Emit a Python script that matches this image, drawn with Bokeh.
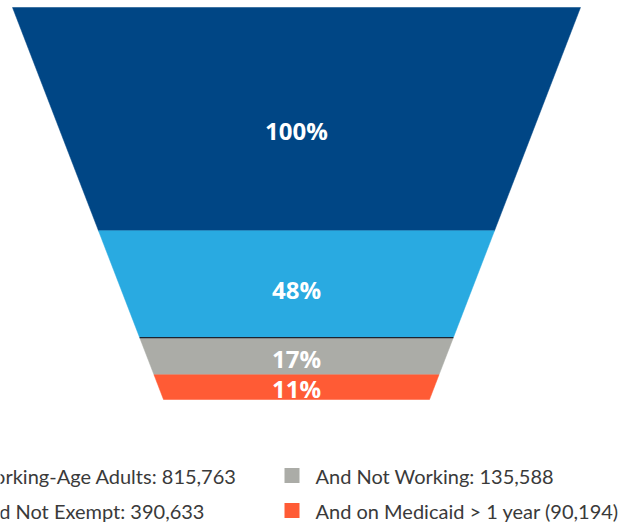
from bokeh.plotting import figure
from bokeh.models import Range1d, Label, BoxAnnotation, ColumnDataSource
from bokeh.core.properties import value
from bokeh.embed import file_html
from bokeh.resources import INLINE

# ---- data ----
stages = ["Working-Age Adults", "And Not Exempt", "And Not Working", "And on Medicaid > 1 year"]
counts = [815763, 390633, 135588, 90194]
legend_labels = [
    "Working-Age Adults: 815,763",
    "And Not Exempt: 390,633",
    "And Not Working: 135,588",
    "And on Medicaid > 1 year (90,194)",
]
colors = ["#004685", "#29AAE1", "#ABACA7", "#FF5B35"]

# ---- layout constants (styles) ----
W, H = 639, 524
TOP_PX, BOT_PX = 7, 399          # page y of funnel top / bottom
CENTER_PX = 296                   # page x of funnel axis
TOP_HW_PX, BOT_HW_PX = 284, 133   # half widths in px
BOT_RATIO = BOT_HW_PX / TOP_HW_PX

total = sum(counts)
unit_y = total / (BOT_PX - TOP_PX)   # data units per pixel

p = figure(width=W, height=H, output_backend="svg", toolbar_location=None,
           x_range=Range1d((0 - CENTER_PX) / TOP_HW_PX, (W - CENTER_PX) / TOP_HW_PX),
           y_range=Range1d((H - TOP_PX) * unit_y, (0 - TOP_PX) * unit_y),
           min_border=0, outline_line_color=None)
p.axis.visible = False
p.grid.visible = False
p.background_fill_color = "white"
p.border_fill_color = "white"


def half_width(c):
    return 1 - (1 - BOT_RATIO) * c / total


bounds = [0]
for c in counts:
    bounds.append(bounds[-1] + c)

xs, ys = [], []
for i in range(len(counts)):
    t, b = bounds[i], bounds[i + 1]
    ht, hb = half_width(t), half_width(b)
    xs.append([-ht, ht, hb, -hb])
    ys.append([t, t, b, b])

src = ColumnDataSource(dict(xs=xs, ys=ys, color=colors))
p.patches("xs", "ys", source=src, fill_color="color", line_color="color", line_width=0.5)

# separator line between 2nd and 3rd stage
yb = bounds[2]
p.segment(x0=[-half_width(yb)], y0=[yb], x1=[half_width(yb)], y1=[yb],
          line_color="#1c2430", line_width=1.2)

# percentage labels
pcts = [f"{round(c / counts[0] * 100)}%" for c in counts]
label_y = [bounds[i] + 0.55 * counts[i] for i in range(len(counts))]
p.text(x=[0] * len(counts), y=label_y, text=pcts,
       text_font=value("Open Sans"), text_font_style="bold", text_font_size="24px",
       text_color="white", text_align="center", text_baseline="middle")

# legend (two columns, left column partly outside the page)
col_text_x = [-26, 315]          # screen x of label start
col_sq_x = [-58, 284]            # screen x of square left
row_y = [49, 14]                 # screen y (from bottom) of row centers
SQ = 15
for i, lab in enumerate(legend_labels):
    col, row = divmod(i, 2)
    p.add_layout(BoxAnnotation(left=col_sq_x[col], right=col_sq_x[col] + SQ,
                               bottom=row_y[row] - SQ / 2, top=row_y[row] + SQ / 2,
                               left_units="screen", right_units="screen",
                               bottom_units="screen", top_units="screen",
                               fill_color=colors[i], fill_alpha=1, line_color=None))
    p.add_layout(Label(x=col_text_x[col], y=row_y[row], x_units="screen", y_units="screen",
                       text=lab, text_font="Lato", text_font_size="20px",
                       text_color="#3a3a3a", text_baseline="middle", text_align="left"))

open("out.html", "w").write(file_html(p, INLINE))
